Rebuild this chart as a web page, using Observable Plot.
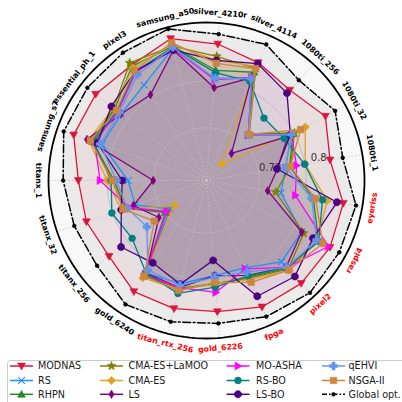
<!DOCTYPE html>
<html><head><meta charset="utf-8">
<script src="https://cdn.jsdelivr.net/npm/d3@7"></script>
<script src="https://cdn.jsdelivr.net/npm/@observablehq/plot@0.6"></script>
<style>
body{margin:0;background:#fff;font-family:"DejaVu Sans",sans-serif;}
#chart{width:402px;height:402px;overflow:hidden;}
#chart svg{display:block;}
</style></head><body><div id="chart"></div>
<script>
// ---- data ----
const devices = ["samsung_a50","silver_4210r","silver_4114","1080ti_256","1080ti_32","1080ti_1","eyeriss","raspi4","pixel2","fpga","gold_6226","titan_rtx_256","gold_6240","titanx_256","titanx_32","titanx_1","samsung_s7","essential_ph_1","pixel3"];
const redDevices = ["eyeriss","raspi4","pixel2","fpga","gold_6226","titan_rtx_256"];
const rTicks = [0.72, 0.8];
const rDomain = [0.63, 0.9];
const methods = ["MODNAS","RS","RHPN","CMA-ES+LaMOO","CMA-ES","LS","MO-ASHA","RS-BO","LS-BO","qEHVI","NSGA-II","Global opt."];
const colors = ["#dc143c","#1e90ff","#228b22","#808000","#daa520","#800080","#ff00ff","#008080","#4b0082","#6495ed","#cd853f","#000000"];

const MODNAS      = [0.880,0.864,0.850,0.840,0.861,0.844,0.867,0.870,0.869,0.866,0.855,0.856,0.857,0.841,0.847,0.849,0.870,0.870,0.865];
const RS          = [0.863,0.805,0.822,0.736,0.795,0.767,0.759,0.815,0.819,0.793,0.793,0.812,0.819,0.709,0.759,0.764,0.819,0.815,0.825];
const RHPN        = [0.867,0.819,0.832,0.736,0.798,0.774,0.815,0.848,0.834,0.810,0.808,0.820,0.824,0.719,0.776,0.788,0.836,0.829,0.863];
const CMAES_LaMOO = [0.867,0.843,0.839,0.738,0.801,0.776,0.750,0.819,0.836,0.812,0.807,0.820,0.824,0.716,0.777,0.789,0.837,0.831,0.870];
const CMAES       = [0.870,0.836,0.843,0.668,0.822,0.801,0.839,0.846,0.839,0.815,0.808,0.822,0.829,0.699,0.784,0.800,0.843,0.832,0.860];
const LS          = [0.860,0.789,0.822,0.693,0.788,0.753,0.736,0.815,0.831,0.807,0.793,0.819,0.819,0.733,0.762,0.721,0.846,0.815,0.805];
const MO_ASHA     = [0.863,0.803,0.822,0.735,0.795,0.786,0.784,0.867,0.832,0.795,0.822,0.819,0.822,0.716,0.771,0.812,0.832,0.822,0.851];
const RS_BO       = [0.865,0.815,0.815,0.775,0.781,0.800,0.831,0.848,0.832,0.808,0.813,0.829,0.819,0.791,0.801,0.793,0.834,0.824,0.853];
const LS_BO       = [0.860,0.836,0.848,0.833,0.793,0.752,0.856,0.837,0.853,0.846,0.767,0.813,0.798,0.815,0.784,0.774,0.827,0.836,0.853];
const qEHVI       = [0.865,0.805,0.820,0.736,0.795,0.767,0.812,0.844,0.832,0.801,0.796,0.815,0.813,0.759,0.774,0.784,0.822,0.819,0.846];
const NSGA_II     = [0.873,0.831,0.839,0.737,0.813,0.775,0.819,0.856,0.838,0.820,0.805,0.824,0.825,0.743,0.781,0.791,0.840,0.825,0.855];
const GlobalOpt   = [0.897,0.881,0.884,0.863,0.880,0.866,0.889,0.888,0.891,0.884,0.875,0.879,0.883,0.867,0.869,0.875,0.888,0.888,0.891];
const seriesValues = [MODNAS,RS,RHPN,CMAES_LaMOO,CMAES,LS,MO_ASHA,RS_BO,LS_BO,qEHVI,NSGA_II,GlobalOpt];

// ---- marker shapes ----
const sz = size => Math.sqrt(size/Math.PI);
const poly = (c, p) => { c.moveTo(p[0][0],p[0][1]); for (let k=1;k<p.length;k++) c.lineTo(p[k][0],p[k][1]); c.closePath(); };
const SYM = {
  triDown:{draw(c,size){const s=sz(size); poly(c,[[0,1.15*s],[1.15*s,-0.85*s],[-1.15*s,-0.85*s]]);}},
  triUp:{draw(c,size){const s=sz(size); poly(c,[[0,-1.15*s],[1.15*s,0.85*s],[-1.15*s,0.85*s]]);}},
  triRight:{draw(c,size){const s=sz(size); poly(c,[[1.15*s,0],[-0.85*s,-1.15*s],[-0.85*s,1.15*s]]);}},
  xmark:{draw(c,size){const s=sz(size); c.moveTo(-s,-s); c.lineTo(s,s); c.moveTo(s,-s); c.lineTo(-s,s);}},
  star:{draw(c,size){const s=sz(size)*1.35; const p=[]; for(let k=0;k<10;k++){const a=-Math.PI/2+k*Math.PI/5; const rr=k%2?s*0.45:s; p.push([rr*Math.cos(a),rr*Math.sin(a)]);} poly(c,p);}},
  diamond:{draw(c,size){const s=sz(size)*1.2; poly(c,[[0,-s],[s,0],[0,s],[-s,0]]);}},
  thinDiamond:{draw(c,size){const s=sz(size)*1.25; poly(c,[[0,-s],[0.6*s,0],[0,s],[-0.6*s,0]]);}},
  circle:{draw(c,size){const s=sz(size); c.moveTo(s,0); c.arc(0,0,s,0,2*Math.PI);}},
  octagon:{draw(c,size){const s=sz(size)*1.1; const p=[]; for(let k=0;k<8;k++){const a=Math.PI/8+k*Math.PI/4; p.push([s*Math.cos(a),s*Math.sin(a)]);} poly(c,p);}},
  plusFilled:{draw(c,size){const s=sz(size)*1.15, w=s*0.38; poly(c,[[-w,-s],[w,-s],[w,-w],[s,-w],[s,w],[w,w],[w,s],[-w,s],[-w,w],[-s,w],[-s,-w],[-w,-w]]);}},
  square:{draw(c,size){const s=sz(size)*0.95; c.rect(-s,-s,2*s,2*s);}},
  point:{draw(c,size){const s=sz(size)*0.55; c.moveTo(s,0); c.arc(0,0,s,0,2*Math.PI);}}
};
const markers = ["triDown","xmark","triUp","star","diamond","thinDiamond","triRight","circle","octagon","plusFilled","square","point"];

// ---- geometry helpers ----
const step = 360/devices.length;
const ang = i => (180 + (15 - i) * step) * Math.PI/180;
const rs = d3.scaleLinear(rDomain, [0, 1]);
const circleAngles = d3.range(0, 360, 2).map(a => a*Math.PI/180);
const labelR = 1.063;
const rotFor = i => { let t = ((90 - (180 + (15 - i) * step)) % 360 + 360) % 360; if (t > 90 && t <= 270) return t - 180; if (t > 270) return t - 360; return t; };

const series = methods.map((m, j) => ({name: m, color: colors[j], marker: markers[j], pts: seriesValues[j].map((v, i) => ({i, v}))}));
const px = d => rs(d.v) * Math.cos(ang(d.i));
const py = d => rs(d.v) * Math.sin(ang(d.i));

const marks = [];
// background disc
marks.push(Plot.line(circleAngles, {x: a => Math.cos(a), y: a => Math.sin(a), curve: "linear-closed", fill: "#f8f8f8", stroke: "none"}));
// fills
series.forEach((s, j) => {
  marks.push(Plot.line(s.pts, {x: px, y: py, curve: "linear-closed", fill: s.color, fillOpacity: j === 11 ? 0.05 : 0.06, stroke: "none"}));
});
// grid
marks.push(Plot.link(devices, {x1: () => 0, y1: () => 0, x2: (d, i) => Math.cos(ang(i)), y2: (d, i) => Math.sin(ang(i)), stroke: "#c4c4c4", strokeWidth: 0.8, strokeDasharray: "1.5,2"}));
rTicks.forEach(t => marks.push(Plot.line(circleAngles, {x: a => rs(t)*Math.cos(a), y: a => rs(t)*Math.sin(a), curve: "linear-closed", stroke: "#b8b8b8", strokeWidth: 1, strokeOpacity: 0.8})));
const la = 12 * Math.PI/180;
marks.push(Plot.text([rTicks[0]], {x: t => rs(t)*Math.cos(la), y: t => rs(t)*Math.sin(la), text: t => String(t), textAnchor: "start", dx: 1, dy: -2, fontSize: 10, fill: "#333"}));
marks.push(Plot.text([rTicks[1]], {x: t => rs(t)*Math.cos(la), y: t => rs(t)*Math.sin(la), text: t => String(t), textAnchor: "start", dx: 7, dy: -2, fontSize: 10, fill: "#333"}));
// series lines and markers
series.forEach((s, j) => {
  const isGlobal = j === 11;
  marks.push(Plot.line(s.pts, {x: px, y: py, curve: "linear-closed", stroke: s.color, strokeWidth: isGlobal ? 1.5 : 1.3, strokeDasharray: isGlobal ? "8,2.5,1.8,2.5" : null}));
  const isX = s.marker === "xmark";
  marks.push(Plot.dot(s.pts, {x: px, y: py, symbol: SYM[s.marker], r: 3.4, fill: isX ? "none" : s.color, stroke: s.color, strokeWidth: isX ? 1.2 : 0.6}));
});
// outer circle
marks.push(Plot.line(circleAngles, {x: a => Math.cos(a), y: a => Math.sin(a), curve: "linear-closed", stroke: "black", strokeWidth: 1.8}));
// category labels
marks.push(Plot.text(devices, {x: (d, i) => labelR*Math.cos(ang(i)), y: (d, i) => labelR*Math.sin(ang(i)), text: d => d, rotate: (d, i) => rotFor(i), fill: d => redDevices.includes(d) ? "#ff0000" : "#000000", fontSize: 7.8, fontWeight: "bold", textAnchor: "middle", lineAnchor: "middle"}));

const chart = Plot.plot({
  width: 402, height: 356,
  marginLeft: 48, marginRight: 38, marginTop: 22, marginBottom: 18,
  x: {domain: [-1, 1], axis: null},
  y: {domain: [-1, 1], axis: null},
  color: {type: "identity"},
  style: {background: "transparent", fontFamily: "DejaVu Sans, sans-serif", overflow: "visible"},
  marks
});
document.getElementById("chart").appendChild(chart);

// ---- legend ----
const leg = d3.create("svg").attr("width", 402).attr("height", 46).style("font-family", "DejaVu Sans, sans-serif");
leg.append("rect").attr("x", 7.5).attr("y", 4.5).attr("width", 420).attr("height", 60).attr("rx", 3).attr("fill", "white").attr("stroke", "#cccccc");
const colX = [10, 100, 226.5, 322], textX = [38, 128.5, 256, 348.5], rowY = [10, 24.5, 38.3];
series.forEach((s, j) => {
  const c = Math.floor(j/3), r = j % 3, x0 = colX[c], y0 = rowY[r];
  const g = leg.append("g");
  g.append("line").attr("x1", x0).attr("x2", x0 + 23).attr("y1", y0).attr("y2", y0).attr("stroke", s.color).attr("stroke-width", 1.5)
    .attr("stroke-dasharray", j === 11 ? "5,2,1.5,2" : null);
  const isX = s.marker === "xmark";
  g.append("path").attr("d", d3.symbol(SYM[s.marker], Math.PI*3.4*3.4)()).attr("transform", `translate(${x0 + 11.5},${y0})`)
    .attr("fill", isX ? "none" : s.color).attr("stroke", s.color).attr("stroke-width", isX ? 1.2 : 0.6);
  g.append("text").attr("x", textX[c]).attr("y", y0).attr("dy", "0.35em").attr("font-size", 9.6).attr("fill", "#1a1a1a").text(s.name);
});
document.getElementById("chart").appendChild(leg.node());
</script></body></html>
